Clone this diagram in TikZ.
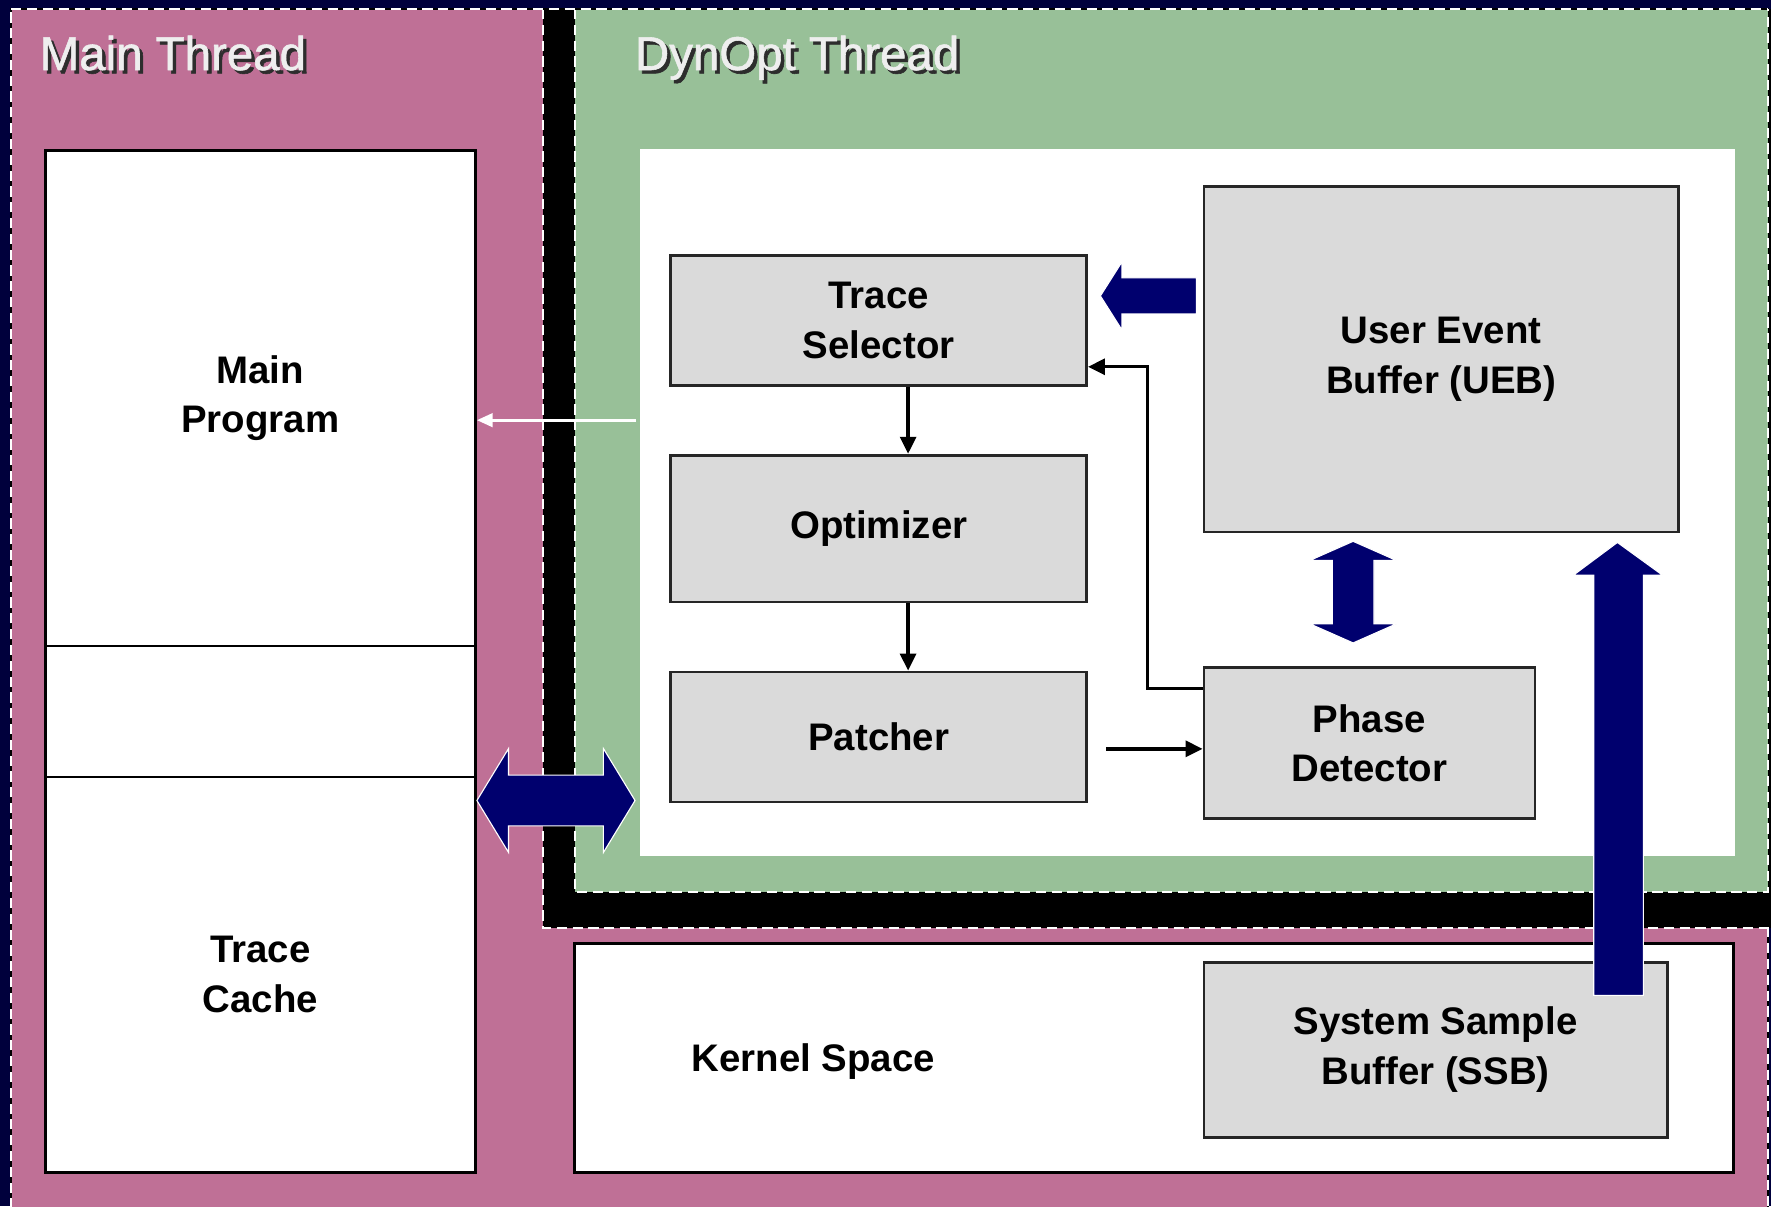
\documentclass[tikz,border=0pt]{standalone}
\usepackage{fontspec}
\setmainfont{Liberation Sans}
\usetikzlibrary{arrows.meta,calc}
\definecolor{bgnavy}{RGB}{0,0,60}
\definecolor{mpink}{RGB}{191,112,150}
\definecolor{dgreen}{RGB}{152,192,152}
\definecolor{boxgray}{RGB}{218,218,218}
\definecolor{anavy}{RGB}{0,0,110}
\definecolor{ttlshadow}{RGB}{45,45,45}
\definecolor{ttlwhite}{RGB}{238,238,238}
\newcommand{\bxfont}{\fontsize{34}{44}\selectfont\bfseries}
\newcommand{\ttlfont}{\fontsize{42}{50}\selectfont\addfontfeature{FakeBold=1.2}}
\begin{document}
\begin{tikzpicture}[x=1pt,y=-1pt,
  wbox/.style={draw=black,line width=2.5pt,fill=white,inner sep=0pt,align=center,font=\bxfont},
  gbox/.style={draw=black!85,line width=2.5pt,fill=boxgray,inner sep=0pt,align=center,font=\bxfont},
  edgeblack/.style={draw=black,line width=1.8pt},
  edgedash/.style={draw=white,line width=1.8pt,dash pattern=on 9pt off 5pt},
  thinarr/.style={draw=black,line width=3pt,-{Triangle[length=15pt,width=14pt]}},
  whitearr/.style={draw=white,line width=2.5pt,-{Triangle[length=14pt,width=12pt]}},
  barrow/.style={fill=anavy,draw=white,line width=1pt,line join=miter},
  ttl/.style={anchor=base west,font=\ttlfont,inner sep=0pt}]
% background and bounding box
\fill[bgnavy] (0,0) rectangle (1568,1068);
\useasboundingbox (0,0) rectangle (1568,1068);
% Main Thread area (pink)
\fill[mpink] (10,8) rectangle (1565,1070);
\draw[edgeblack] (10,1070) -- (10,8) -- (1565,8) -- (1565,1070);
\draw[edgedash] (10,1070) -- (10,8) -- (1565,8) -- (1565,1070);
% DynOpt Thread area (black band + green)
\fill[black] (481,8) rectangle (1568,822);
\draw[edgedash] (481,8) -- (481,822) -- (1568,822);
\fill[dgreen] (509,8) rectangle (1565,790);
\draw[edgedash] (509,8) -- (509,790) -- (1565,790) -- (1565,8);
\draw[edgeblack] (10,8) -- (1565,8);
\draw[edgedash] (10,8) -- (1565,8);
% titles
\node[ttl,text=ttlshadow] (mtshadow) at (38,65) {Main Thread};
\node[ttl,text=ttlwhite] (mttitle) at (35,62) {Main Thread};
\node[ttl,text=ttlshadow] (dtshadow) at (565,65) {DynOpt Thread};
\node[ttl,text=ttlwhite] (dttitle) at (562,62) {DynOpt Thread};
% inner white panel of DynOpt thread
\node[fill=white,inner sep=0pt,minimum width=969,minimum height=626] (dyn) at (1051.5,445) {};
% Main thread boxes
\node[wbox,minimum width=381,minimum height=439] (mp) at (230.5,352.5) {Main\\Program};
\node[wbox,minimum width=381,minimum height=116] (mid) at (230.5,630) {};
\node[wbox,minimum width=381,minimum height=350] (tc) at (230.5,863) {Trace\\Cache};
% kernel space
\node[wbox,minimum width=1026,minimum height=203] (ks) at (1022,936.5) {};
\node[font=\bxfont,inner sep=0pt] (kslabel) at (720,940) {Kernel Space};
\node[gbox,minimum width=410,minimum height=155] (ssb) at (1271,929.5) {System Sample\\Buffer (SSB)};
% DynOpt boxes
\node[gbox,minimum width=368,minimum height=115] (ts) at (778,283.5) {Trace\\Selector};
\node[gbox,minimum width=368,minimum height=130] (opt) at (778,468) {Optimizer};
\node[gbox,minimum width=368,minimum height=115] (pat) at (778,652.5) {Patcher};
\node[gbox,minimum width=420,minimum height=306] (ueb) at (1276,318) {User Event\\Buffer (UEB)};
\node[gbox,minimum width=293,minimum height=134] (pd) at (1212.5,658) {Phase\\Detector};
% thin connectors
\draw[thinarr] ($(ts.south)+(26,0)$) -- ($(opt.north)+(26,0)$);
\draw[thinarr] ($(opt.south)+(26,0)$) -- ($(pat.north)+(26,0)$);
\coordinate (patout) at ($(pat.east)+(16,10.5)$);
\draw[thinarr] (patout) -- (patout -| pd.west);
\draw[thinarr] ($(pd.north west)+(0,20)$) -- ++(-49,0) |- ($(ts.north east)+(0,100)$);
\draw[whitearr] ($(mp.east)+(141,19.5)$) -- ($(mp.east)+(0,19.5)$);
% block arrows
\coordinate (ltip) at ($(ts.east)+(11,-21.5)$);
\path[barrow] (ltip) -- ++(19,-30) -- ++(0,14) -- ++(66,0) -- ++(0,32) -- ++(-66,0) -- ++(0,14) -- cycle;
\coordinate (vtop) at ($(ueb.south)+(-78,7)$);
\path[barrow] (vtop) -- ++(38.5,17) -- ++(-20,0) -- ++(0,56) -- ++(20,0) -- ++(-38.5,17) -- ++(-38.5,-17) -- ++(20,0) -- ++(0,-56) -- ++(-20,0) -- cycle;
\coordinate (hleft) at ($(tc.north east)+(0,22)$);
\path[barrow] (hleft) -- ++(28,-46) -- ++(0,23.5) -- ++(84,0) -- ++(0,-23.5) -- ++(28,46) -- ++(-28,46) -- ++(0,-23.5) -- ++(-84,0) -- ++(0,23.5) -- cycle;
\coordinate (ssbtip) at ($(ueb.south)+(156,8)$);
\path[barrow] (ssbtip) -- ++(40,29) -- ++(-17,0) -- ++(0,372) -- ++(-44,0) -- ++(0,-372) -- ++(-18,0) -- cycle;
\end{tikzpicture}
\end{document}
